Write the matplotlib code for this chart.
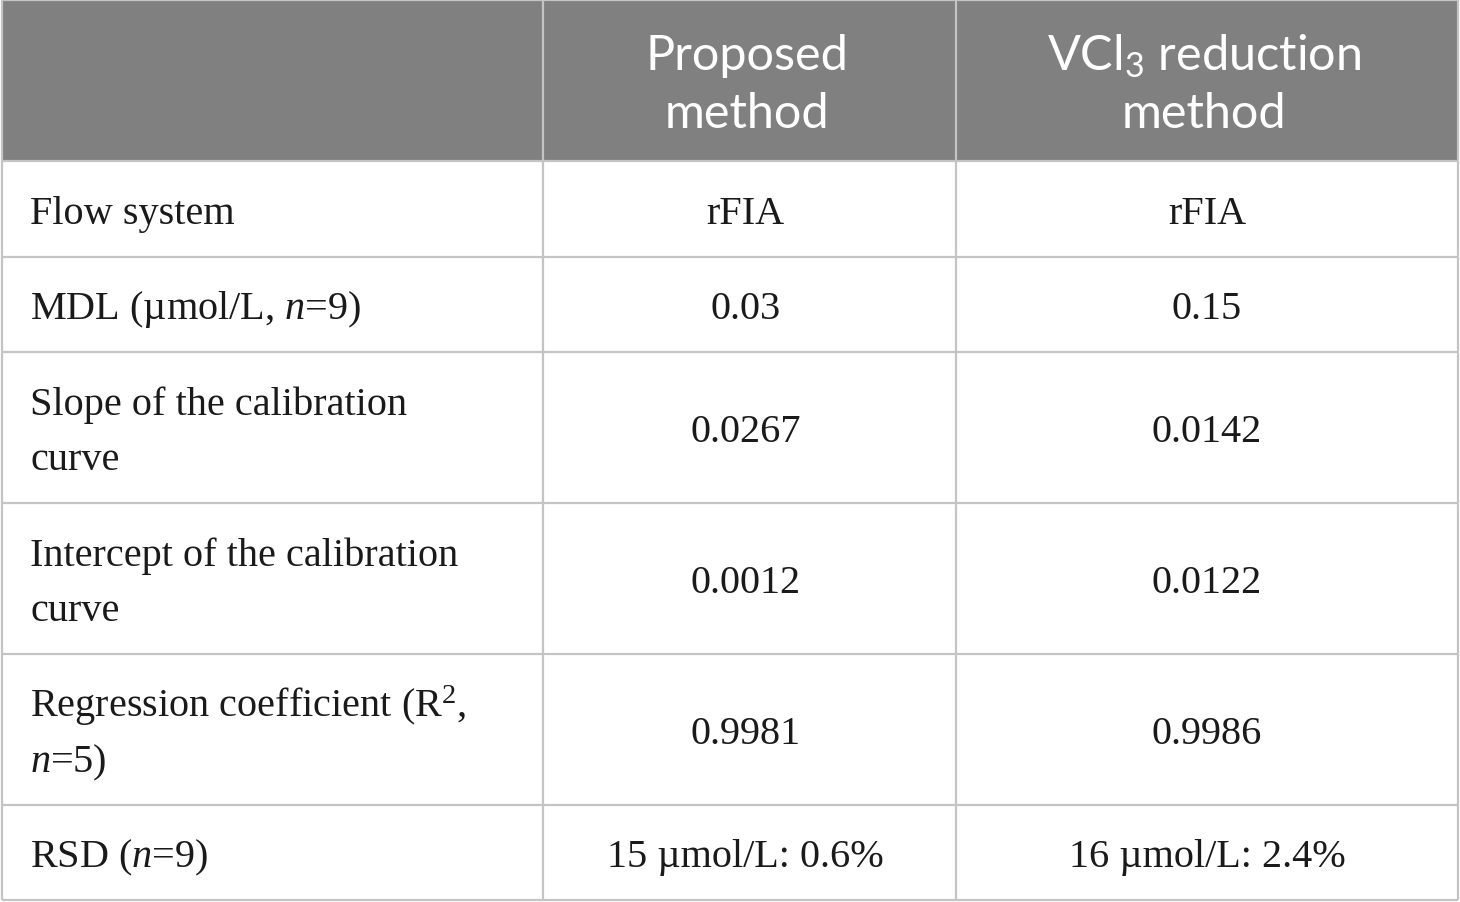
import matplotlib
matplotlib.use("Agg")
import matplotlib.pyplot as plt
from matplotlib.patches import Rectangle

plt.rcParams['mathtext.fontset'] = 'custom'
plt.rcParams['mathtext.rm'] = 'Liberation Serif'
plt.rcParams['mathtext.it'] = 'Liberation Serif:italic'
plt.rcParams['mathtext.sf'] = 'Lato'

# ---- table content ----
header = ["", "Proposed\nmethod", r"$\mathsf{VCl_3}$ reduction" + "\nmethod"]
row_labels = [
    "Flow system",
    "MDL (\u00b5mol/L, $n$=9)",
    "Slope of the calibration\ncurve",
    "Intercept of the calibration\ncurve",
    "Regression coefficient (R$^2$,\n$n$=5)",
    "RSD ($n$=9)",
]
proposed = ["rFIA", "0.03", "0.0267", "0.0012", "0.9981", "15 \u00b5mol/L: 0.6%"]
vcl3 = ["rFIA", "0.15", "0.0142", "0.0122", "0.9986", "16 \u00b5mol/L: 2.4%"]

# ---- layout (pixels) ----
W, H = 1460, 903
col_edges = [2, 543, 956, 1458]
row_edges = [1, 162, 258, 353, 504, 655, 806, 901]
header_bg = "#808080"
line_col = "#c4c4c4"
text_col = "#1a1a1a"

fig = plt.figure(figsize=(W / 100, H / 100), dpi=100)
ax = fig.add_axes([0, 0, 1, 1])
ax.set_xlim(0, W)
ax.set_ylim(H, 0)
ax.axis("off")

# header background
ax.add_patch(Rectangle((col_edges[0], row_edges[0]), col_edges[-1] - col_edges[0],
                       row_edges[1] - row_edges[0], facecolor=header_bg, edgecolor="none", zorder=1))

# grid lines
for y in row_edges:
    ax.plot([col_edges[0], col_edges[-1]], [y, y], color=line_col, lw=1.6, zorder=2,
            solid_capstyle="butt")
for x in col_edges:
    ax.plot([x, x], [row_edges[0], row_edges[-1]], color=line_col, lw=1.6, zorder=2,
            solid_capstyle="butt")

body_fs = 29
head_fs = 35
body_gap = 55
head_gap = 58


def draw_lines(x, ycenter, text, ha, fs, family, color, gap, base_off):
    lines = text.split("\n")
    n = len(lines)
    for i, ln in enumerate(lines):
        yb = ycenter + base_off + (i - (n - 1) / 2) * gap
        ax.text(x, yb, ln, ha=ha, va="baseline", fontsize=fs, family=family,
                color=color, zorder=3)


# header texts
hc = (row_edges[0] + row_edges[1]) / 2
for j in (1, 2):
    xc = (col_edges[j] + col_edges[j + 1]) / 2
    draw_lines(xc - 3, hc, header[j], "center", head_fs, "Lato", "white", head_gap, 18)

# body texts
for i in range(len(row_labels)):
    yc = (row_edges[i + 1] + row_edges[i + 2]) / 2
    draw_lines(30, yc, row_labels[i], "left", body_fs, "Liberation Serif", text_col, body_gap, 14)
    x1 = (col_edges[1] + col_edges[2]) / 2 - 4
    x2 = (col_edges[2] + col_edges[3]) / 2
    draw_lines(x1, yc, proposed[i], "center", body_fs, "Liberation Serif", text_col, body_gap, 14)
    draw_lines(x2, yc, vcl3[i], "center", body_fs, "Liberation Serif", text_col, body_gap, 14)

fig.savefig("out.png", dpi=100)
